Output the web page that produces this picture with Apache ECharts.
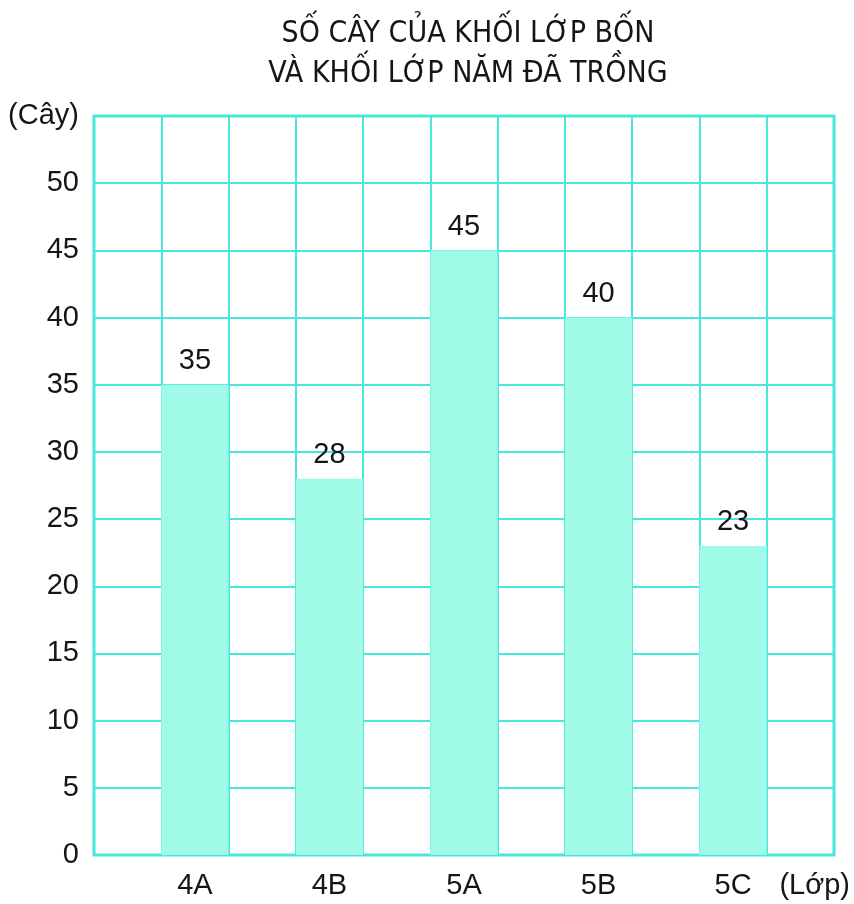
<!DOCTYPE html>
<html>
<head>
<meta charset="utf-8">
<script src="https://cdn.jsdelivr.net/npm/echarts@6/dist/echarts.min.js"></script>
<style>
  html, body { margin: 0; padding: 0; background: #ffffff; }
  #chart { width: 854px; height: 904px; }
</style>
</head>
<body>
<div id="chart"></div>
<script>
// ---- data ----
const titleLines = ['SỐ CÂY CỦA KHỐI LỚP BỐN', 'VÀ KHỐI LỚP NĂM ĐÃ TRỒNG'];
const classes = ['4A', '4B', '5A', '5B', '5C'];
const trees = [35, 28, 45, 40, 23];
const yName = '(Cây)';
const xName = '(Lớp)';
const yMin = 0, yMax = 55, yStep = 5;

// Grid has an empty column before each class and one at the end
const slots = [];
const slotValues = [];
classes.forEach(function (c, i) {
  slots.push('');
  slotValues.push(null);
  slots.push(c);
  slotValues.push(trees[i]);
});
slots.push('');
slotValues.push(null);

const lineColor = '#45e8da';
const barColor = '#9ffbe7';
const textFont = "'Liberation Sans', Arial, sans-serif";
const labelSize = 29;

const chart = echarts.init(document.getElementById('chart'), null, { renderer: 'canvas' });
chart.setOption({
  animation: false,
  backgroundColor: '#ffffff',
  title: {
    text: titleLines.join('\n'),
    left: 463,
    textAlign: 'center',
    top: 9,
    textStyle: {
      fontFamily: "'Liberation Sans Narrow', 'DejaVu Sans Condensed', sans-serif",
      fontSize: 30,
      fontWeight: 'normal',
      color: '#151515',
      lineHeight: 40
    }
  },
  grid: {
    left: 94,
    right: 20,
    top: 116,
    bottom: 49,
    show: true,
    borderColor: lineColor,
    borderWidth: 3,
    containLabel: false
  },
  xAxis: {
    type: 'category',
    data: slots,
    boundaryGap: true,
    name: xName,
    nameLocation: 'end',
    nameGap: 16,
    nameTextStyle: {
      fontFamily: textFont,
      fontSize: labelSize,
      color: '#151515',
      align: 'right',
      verticalAlign: 'top',
      padding: [16, 0, 0, 0]
    },
    axisLine: { show: false },
    axisTick: { show: false },
    axisLabel: {
      interval: 0,
      margin: 16,
      fontFamily: textFont,
      fontSize: labelSize,
      color: '#151515'
    },
    splitLine: {
      show: true,
      interval: 0,
      lineStyle: { color: lineColor, width: 2 }
    }
  },
  yAxis: {
    type: 'value',
    min: yMin,
    max: yMax,
    interval: yStep,
    name: yName,
    nameLocation: 'end',
    nameGap: 0,
    nameTextStyle: {
      fontFamily: textFont,
      fontSize: labelSize,
      color: '#151515',
      align: 'right',
      verticalAlign: 'middle',
      padding: [0, 15, 0, 0]
    },
    axisLine: { show: false },
    axisTick: { show: false },
    axisLabel: {
      showMaxLabel: false,
      margin: 15,
      fontFamily: textFont,
      fontSize: labelSize,
      color: '#151515'
    },
    splitLine: {
      show: true,
      lineStyle: { color: lineColor, width: 2 }
    }
  },
  series: [{
    type: 'bar',
    data: slotValues,
    barWidth: '100%',
    barCategoryGap: 0,
    itemStyle: { color: barColor },
    label: {
      show: true,
      position: 'top',
      distance: 9,
      fontFamily: textFont,
      fontSize: labelSize,
      color: '#151515'
    }
  }]
});
</script>
</body>
</html>
